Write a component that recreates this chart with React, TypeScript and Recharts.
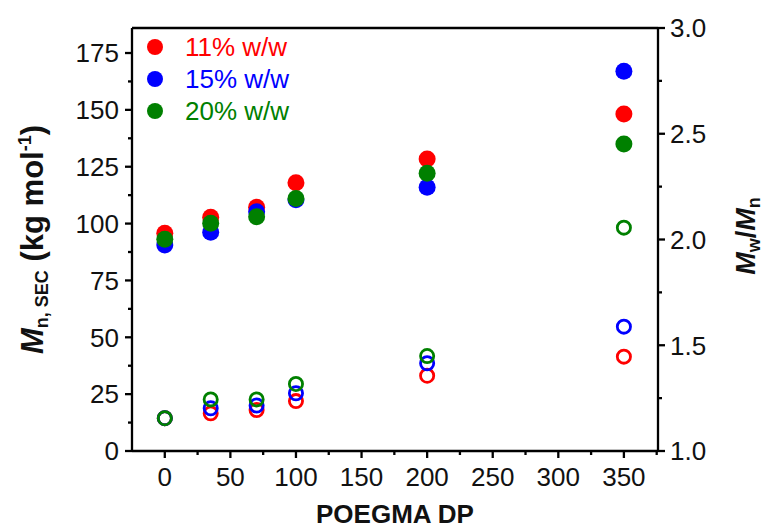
import React from 'react';
import { ScatterChart, Scatter, XAxis, YAxis, Legend, ReferenceLine } from 'recharts';

// ---- data ----
const dp = [0, 35, 70, 100, 200, 350];
const mn11 = [95.7, 102.8, 107.2, 118, 128.4, 148.2];
const mn15 = [90.6, 96.2, 105.2, 110.5, 116.0, 167];
const mn20 = [93.1, 100.1, 103.0, 111, 122.1, 135.0];
const disp11 = [1.155, 1.178, 1.194, 1.236, 1.356, 1.446];
const disp15 = [1.155, 1.202, 1.215, 1.273, 1.415, 1.588];
const disp20 = [1.155, 1.244, 1.244, 1.317, 1.449, 2.056];

const seriesNames = ['11% w/w', '15% w/w', '20% w/w'];
const seriesColors = ['#FF0000', '#0000FF', '#008000'];

const xMajor = [0, 50, 100, 150, 200, 250, 300, 350];
const xMinor = [25, 75, 125, 175, 225, 275, 325, 375];
const leftMajor = [0, 25, 50, 75, 100, 125, 150, 175];
const leftMinor = [12.5, 37.5, 62.5, 87.5, 112.5, 137.5, 162.5];
const rightMajor = [1, 1.5, 2, 2.5, 3];
const rightMinor = [1.25, 1.75, 2.25, 2.75];

const toPts = (ys: number[]) => dp.map((x, i) => ({ x, y: ys[i] }));
const mnSeries = [mn11, mn15, mn20].map(toPts);
const dispSeries = [disp11, disp15, disp20].map(toPts);

const FONT = '"Liberation Sans", Arial, sans-serif';
const TICK_FS = 26;
const AX = '#000';
const AXW = 2.3;
const TXT = '#111';

const sortNum = (a: number[]) => [...a].sort((p, q) => p - q);

const BottomTick = (props: any) => {
  const { x, y, payload } = props;
  const v = payload.value;
  const major = xMajor.includes(v);
  const ay = y - 7;
  return (
    <g>
      <line x1={x} x2={x} y1={ay} y2={ay + (major ? 7 : 4)} stroke={AX} strokeWidth={AXW} />
      {major && (
        <text x={x} y={ay + 35} textAnchor="middle" fontSize={TICK_FS} fontFamily={FONT} fill={TXT}>
          {v}
        </text>
      )}
    </g>
  );
};

const LeftTick = (props: any) => {
  const { x, y, payload } = props;
  const v = payload.value;
  const major = leftMajor.includes(v);
  const ax = x + 7;
  return (
    <g>
      <line x1={ax} x2={ax - (major ? 7 : 4)} y1={y} y2={y} stroke={AX} strokeWidth={AXW} />
      {major && (
        <text x={ax - 13} y={y + 9.3} textAnchor="end" fontSize={TICK_FS} fontFamily={FONT} fill={TXT}>
          {v}
        </text>
      )}
    </g>
  );
};

const RightTick = (props: any) => {
  const { x, y, payload } = props;
  const v = payload.value;
  const major = rightMajor.includes(v);
  const ax = x - 7;
  return (
    <g>
      <line x1={ax} x2={ax + (major ? 7 : 4)} y1={y} y2={y} stroke={AX} strokeWidth={AXW} />
      {major && (
        <text x={ax + 12} y={y + 9.3} textAnchor="start" fontSize={TICK_FS} fontFamily={FONT} fill={TXT}>
          {v.toFixed(1)}
        </text>
      )}
    </g>
  );
};

const XTitle = () => (
  <text x={395} y={523} textAnchor="middle" fontSize={26} fontWeight="bold" fontFamily={FONT} fill={TXT}>
    POEGMA DP
  </text>
);

const LeftTitle = () => (
  <text
    x={43}
    y={354}
    transform="rotate(-90, 43, 354)"
    textAnchor="start"
    fontSize={31}
    fontWeight="bold"
    fontFamily={FONT}
    fill={TXT}
  >
    <tspan fontStyle="italic">M</tspan>
    <tspan fontSize={18} dy={5}>n, SEC</tspan>
    <tspan dy={-5}> (kg mol</tspan>
    <tspan fontSize={18} dy={-12}>-1</tspan>
    <tspan dy={12}>)</tspan>
  </text>
);

const RightTitle = () => (
  <text
    x={755}
    y={236}
    transform="rotate(-90, 755, 236)"
    textAnchor="middle"
    fontSize={27}
    fontWeight="bold"
    fontFamily={FONT}
    fill={TXT}
  >
    <tspan fontStyle="italic">M</tspan>
    <tspan fontSize={18} dy={5}>w</tspan>
    <tspan dy={-5}>/</tspan>
    <tspan fontStyle="italic">M</tspan>
    <tspan fontSize={18} dy={5}>n</tspan>
  </text>
);

const LegendContent = () => (
  <svg width={180} height={100} style={{ display: 'block', overflow: 'visible' }}>
    {seriesNames.map((n, i) => (
      <g key={n}>
        <circle cx={15} cy={17 + i * 32} r={8} fill={seriesColors[i]} />
        <text x={45} y={17 + i * 32 + 9} fontSize={26} fontFamily={FONT} fill={seriesColors[i]}>
          {n}
        </text>
      </g>
    ))}
  </svg>
);

const filledShape = (color: string) => (p: any) => <circle cx={p.cx} cy={p.cy} r={8.5} fill={color} />;
const openShape = (color: string) => (p: any) => (
  <circle cx={p.cx} cy={p.cy} r={6.6} fill="none" stroke={color} strokeWidth={2.8} />
);

export default function App() {
  return (
    <div style={{ position: 'absolute', left: 0, top: 0, background: '#fff' }}>
      <ScatterChart width={765} height={531} margin={{ top: 28, right: 0, bottom: 0, left: 0 }}>
        <XAxis
          type="number"
          dataKey="x"
          domain={[-25, 376]}
          ticks={sortNum([...xMajor, ...xMinor])}
          interval={0}
          height={80}
          tickSize={7}
          tickMargin={0}
          tickLine={false}
          tick={<BottomTick />}
          axisLine={{ stroke: AX, strokeWidth: AXW }}
          label={<XTitle />}
        />
        <YAxis
          yAxisId="left"
          type="number"
          dataKey="y"
          orientation="left"
          domain={[0, 186]}
          ticks={sortNum([...leftMajor, ...leftMinor])}
          interval={0}
          width={132}
          tickSize={7}
          tickMargin={0}
          tickLine={false}
          tick={<LeftTick />}
          axisLine={{ stroke: AX, strokeWidth: AXW }}
          label={<LeftTitle />}
        />
        <YAxis
          yAxisId="right"
          type="number"
          dataKey="y"
          orientation="right"
          domain={[1, 3]}
          ticks={sortNum([...rightMajor, ...rightMinor])}
          interval={0}
          width={107}
          tickSize={7}
          tickMargin={0}
          tickLine={false}
          tick={<RightTick />}
          axisLine={{ stroke: AX, strokeWidth: AXW }}
          label={<RightTitle />}
        />
        <ReferenceLine yAxisId="left" y={186} stroke={AX} strokeWidth={AXW} />
        {mnSeries.map((d, i) => (
          <Scatter
            key={'mn' + i}
            name={seriesNames[i]}
            data={d}
            yAxisId="left"
            fill={seriesColors[i]}
            shape={filledShape(seriesColors[i])}
            isAnimationActive={false}
          />
        ))}
        {dispSeries.map((d, i) => (
          <Scatter
            key={'d' + i}
            name={seriesNames[i] + ' PDI'}
            data={d}
            yAxisId="right"
            fill={seriesColors[i]}
            shape={openShape(seriesColors[i])}
            isAnimationActive={false}
          />
        ))}
        <Legend
          layout="vertical"
          align="center"
          verticalAlign="middle"
          wrapperStyle={{ left: 140, top: 30, width: 180, height: 100 }}
          content={() => <LegendContent />}
        />
      </ScatterChart>
    </div>
  );
}
